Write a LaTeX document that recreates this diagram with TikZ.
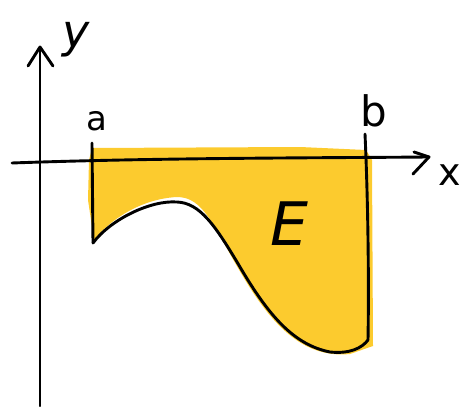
\documentclass[tikz,border=0pt]{standalone}
\usepackage{fontspec}
\setsansfont{DejaVu Sans}
\begin{document}
\begin{tikzpicture}[x=1pt,y=-1pt,
  pen/.style={line width=2.9pt,line cap=round,line join=round,black},
  lbl/.style={font=\sffamily\fontsize{30}{30}\selectfont,inner sep=0pt}]
\definecolor{hl}{RGB}{252,203,46}
\useasboundingbox (0,0) rectangle (462,406);
% coordinates
\coordinate (A) at (93,243);
\coordinate (B) at (368,340);
% fill region
\fill[hl] (92,148) -- (300,147) -- (366,150) -- (372,160) -- (373,346)
  -- (350,354) .. controls (300,359) and (268,320) .. (238,268)
  .. controls (213,225) and (203,197) .. (177,197)
  .. controls (140,199) and (110,220) .. (94,240) -- (88,200) -- (89,160) -- cycle;
% curve
\draw[pen] (A) .. controls (110,220) and (150,200) .. (177,202)
  .. controls (200,203) and (215,225) .. (240,267)
  .. controls (270,318) and (295,345) .. (330,352)
  .. controls (350,354) and (362,348) .. (B);
% axes
\draw[pen] (40,406) -- (40,48);
\draw[pen] (28,66) -- (40,47) -- (53,66);
\draw[pen] (12,163) .. controls (150,158) and (300,158) .. (429,157);
\draw[pen] (414,152) -- (429,157) -- (413,174);
% ticks
\draw[pen] (92,143) -- (A);
\draw[pen] (365,134) .. controls (368,200) and (369,280) .. (B);
% labels
\node[lbl,font=\sffamily\itshape\fontsize{46}{46}\selectfont] (ylab) at (76,40) {y};
\node[lbl,font=\sffamily\fontsize{38}{38}\selectfont] (xlab) at (450,175) {x};
\node[lbl,font=\sffamily\fontsize{34}{34}\selectfont] (alab) at (97,121) {a};
\node[lbl,font=\sffamily\fontsize{42}{42}\selectfont] (blab) at (374,111) {b};
\node[lbl,font=\sffamily\itshape\fontsize{60}{60}\selectfont] (elab) at (289,224) {E};
\end{tikzpicture}
\end{document}
